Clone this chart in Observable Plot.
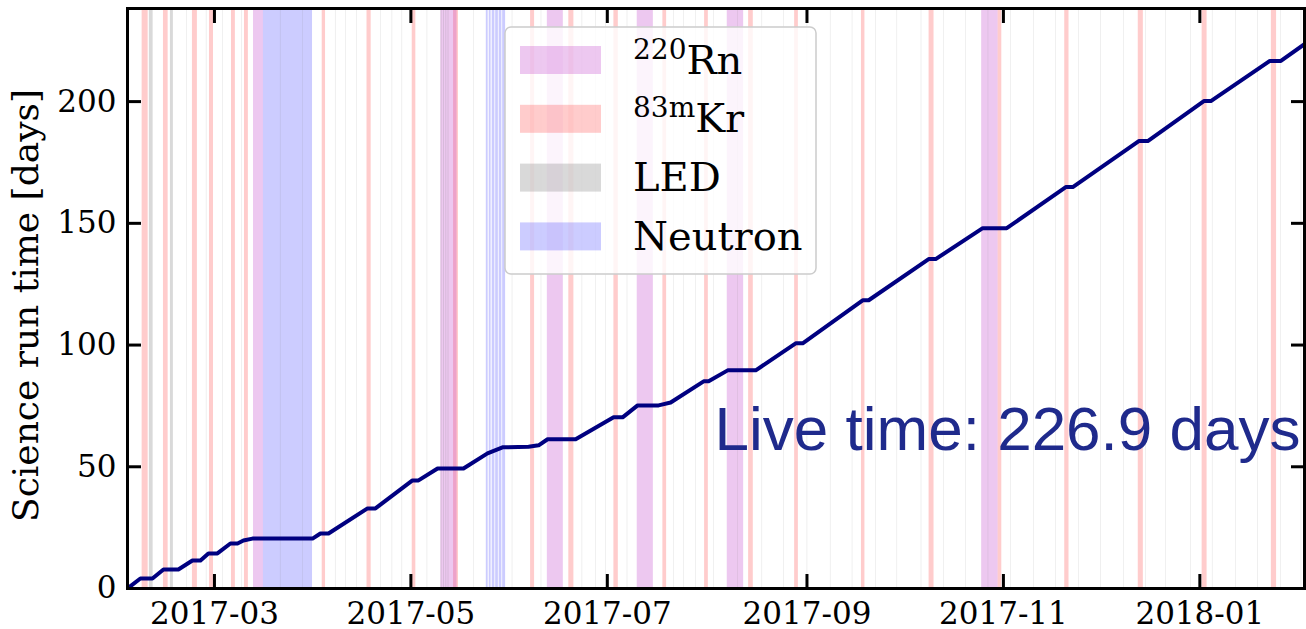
<!DOCTYPE html>
<html>
<head>
<meta charset="utf-8">
<script src="https://cdn.jsdelivr.net/npm/d3@7"></script>
<script src="https://cdn.jsdelivr.net/npm/@observablehq/plot@0.6"></script>
<style>
  html, body { margin: 0; padding: 0; background: #fff; }
  #chart { width: 1306px; height: 629px; }
</style>
</head>
<body>
<div id="chart"></div>
<script>
// Cumulative science-run live time (days) at the corners of the exposure curve
const lineDates = [
  "2017-02-02T00:00", "2017-02-06T00:00", "2017-02-09T18:00", "2017-02-13T04:00",
  "2017-02-17T19:00", "2017-02-22T04:00", "2017-02-24T16:00", "2017-02-27T03:00",
  "2017-03-01T22:00", "2017-03-05T23:00", "2017-03-08T04:00", "2017-03-10T00:00",
  "2017-03-12T19:00", "2017-03-31T11:00", "2017-04-02T22:00", "2017-04-05T10:00",
  "2017-04-17T13:00", "2017-04-20T00:00", "2017-05-01T12:00", "2017-05-03T09:00",
  "2017-05-09T07:00", "2017-05-17T08:00", "2017-05-24T19:00", "2017-05-29T11:00",
  "2017-06-06T13:00", "2017-06-09T16:00", "2017-06-12T11:00", "2017-06-21T04:00",
  "2017-07-02T23:00", "2017-07-05T18:00", "2017-07-10T10:00", "2017-07-16T22:00",
  "2017-07-20T16:00", "2017-07-30T22:00", "2017-08-01T11:00", "2017-08-07T09:00",
  "2017-08-16T02:00", "2017-08-28T12:00", "2017-08-30T16:00", "2017-09-18T07:00",
  "2017-09-20T04:00", "2017-10-08T19:00", "2017-10-10T23:00", "2017-10-25T14:00",
  "2017-11-02T01:00", "2017-11-20T09:00", "2017-11-22T13:00", "2017-12-13T01:00",
  "2017-12-15T20:00", "2018-01-02T06:00", "2018-01-04T10:00", "2018-01-22T18:00",
  "2018-01-26T04:00", "2018-02-06T00:00"
];
const liveDays = [
  0, 4.1, 4.1, 7.8,
  7.8, 11.5, 11.5, 14.4,
  14.4, 18.5, 18.5, 19.7,
  20.5, 20.5, 22.6, 22.6,
  32.9, 32.9, 44.4, 44.4,
  49.3, 49.3, 55.5, 58.0,
  58.2, 58.8, 61.3, 61.3,
  70.3, 70.3, 75.2, 75.2,
  76.4, 85.1, 85.1, 89.6,
  89.6, 100.7, 100.7, 118.4,
  118.4, 135.3, 135.3, 148.0,
  148.0, 164.9, 164.9, 183.8,
  183.8, 200.2, 200.2, 216.7,
  216.7, 226.9
];
const totalLiveTime = 226.9;

// Calibration periods: 220Rn source
const rnStart = ["2017-03-13T03:00", "2017-05-10T07:00", "2017-06-12T09:00",
                 "2017-07-10T07:00", "2017-08-07T06:00", "2017-10-25T06:00"];
const rnEnd   = ["2017-03-16T05:00", "2017-05-15T08:00", "2017-06-17T08:00",
                 "2017-07-15T07:00", "2017-08-12T08:00", "2017-10-30T08:00"];

// 83mKr source
const krStart = [
  "2017-02-06T13:00", "2017-02-13T04:00", "2017-02-22T04:00", "2017-02-27T11:00",
  "2017-03-06T07:00", "2017-03-10T08:00", "2017-04-03T11:00", "2017-04-17T09:00",
  "2017-05-01T10:00", "2017-05-14T06:00", "2017-06-07T04:00", "2017-06-19T01:00",
  "2017-07-03T01:00", "2017-07-18T06:00", "2017-07-31T05:00", "2017-08-13T21:00",
  "2017-08-28T04:00", "2017-09-17T22:00", "2017-10-08T22:00", "2017-10-30T08:00",
  "2017-11-20T01:00", "2017-12-12T21:00", "2018-01-01T17:00", "2018-01-23T05:00"
];
const krEnd = [
  "2017-02-08T10:00", "2017-02-14T15:00", "2017-02-23T17:00", "2017-02-28T17:00",
  "2017-03-07T12:00", "2017-03-11T13:00", "2017-04-04T12:00", "2017-04-18T16:00",
  "2017-05-02T13:00", "2017-05-15T19:00", "2017-06-08T10:00", "2017-06-20T15:00",
  "2017-07-04T10:00", "2017-07-19T10:00", "2017-08-01T09:00", "2017-08-15T08:00",
  "2017-08-29T08:00", "2017-09-19T00:00", "2017-10-10T11:00", "2017-10-31T12:00",
  "2017-11-21T09:00", "2017-12-14T11:00", "2018-01-03T06:00", "2018-01-24T20:00"
];

// Neutron generator / AmBe runs
const neutronStart = ["2017-03-16T05:00", "2017-05-24T10:00", "2017-05-25T08:00",
                      "2017-05-26T06:00", "2017-05-27T08:00", "2017-05-28T10:00",
                      "2017-05-29T12:00"];
const neutronEnd   = ["2017-03-31T11:00", "2017-05-25T00:00", "2017-05-25T22:00",
                      "2017-05-27T02:00", "2017-05-28T04:00", "2017-05-29T06:00",
                      "2017-05-30T10:00"];

// LED (PMT gain) calibrations: start time and duration in hours
const ledStart = [
  "2017-02-08T19:00", "2017-02-15T08:00", "2017-02-20T12:00", "2017-02-26T12:00",
  "2017-03-03T12:00", "2017-03-09T12:00", "2017-03-21T12:00", "2017-03-28T12:00",
  "2017-04-07T14:00", "2017-04-10T17:00", "2017-04-14T07:00", "2017-04-21T14:00",
  "2017-04-25T05:00", "2017-04-28T07:00", "2017-05-06T02:00", "2017-05-10T10:00",
  "2017-05-11T04:00", "2017-05-11T22:00", "2017-05-12T14:00",
  "2017-05-20T12:00", "2017-06-01T12:00", "2017-06-10T12:00", "2017-06-23T05:00",
  "2017-06-27T10:00", "2017-06-30T12:00", "2017-07-07T05:00", "2017-07-21T17:00",
  "2017-07-24T19:00", "2017-07-28T10:00", "2017-08-03T02:00", "2017-08-10T12:00",
  "2017-08-18T02:00", "2017-08-24T19:00", "2017-09-01T02:00", "2017-09-08T07:00",
  "2017-09-15T02:00", "2017-09-22T07:00", "2017-09-29T00:00", "2017-10-06T12:00",
  "2017-10-13T12:00", "2017-10-20T07:00", "2017-10-27T07:00", "2017-11-03T07:00",
  "2017-11-10T10:00", "2017-11-17T07:00", "2017-11-24T10:00", "2017-12-01T05:00",
  "2017-12-08T10:00", "2017-12-15T07:00", "2017-12-21T10:00", "2017-12-29T05:00",
  "2018-01-04T22:00", "2018-01-12T05:00", "2018-01-19T00:00", "2018-01-26T05:00",
  "2018-02-01T12:00"
];
const ledHours = [
  28, 22, 3, 3,
  3, 3, 3, 3,
  3, 3, 3, 3,
  3, 3, 3, 5,
  5, 5, 5,
  3, 3, 3, 3,
  3, 3, 3, 3,
  3, 3, 3, 3,
  3, 3, 3, 3,
  3, 3, 3, 3,
  3, 3, 3, 3,
  3, 3, 3, 3,
  3, 3, 3, 3,
  3, 3, 3, 3,
  3
];

// Axis ticks
const xTicks = ["2017-03-01", "2017-05-01", "2017-07-01", "2017-09-01", "2017-11-01", "2018-01-01"];
const yTicks = [0, 50, 100, 150, 200];

const parseTime = s => new Date((s.length === 10 ? s + "T00:00" : s) + "Z");

const curve = lineDates.map((d, i) => ({date: parseTime(d), days: liveDays[i]}));
const spans = (starts, ends) => starts.map((s, i) => ({start: parseTime(s), end: parseTime(ends[i])}));
const rnRuns = spans(rnStart, rnEnd);
const krRuns = spans(krStart, krEnd);
const neutronRuns = spans(neutronStart, neutronEnd);
const ledRuns = ledStart.map((s, i) => {
  const start = parseTime(s);
  return {start, end: new Date(+start + ledHours[i] * 3600e3)};
});

const colors = {
  rn: {fill: "rgb(183,35,195)", opacity: 0.25},
  kr: {fill: "rgb(255,0,0)", opacity: 0.2},
  led: {fill: "rgb(128,128,128)", opacity: 0.3},
  neutron: {fill: "rgb(0,0,255)", opacity: 0.2}
};

const band = (data, c) => Plot.rect(data, {x1: "start", x2: "end", fill: c.fill, fillOpacity: c.opacity});

const tickLen = -14;

const svg = Plot.plot({
  width: 1306,
  height: 629,
  marginLeft: 127,
  marginRight: 2,
  marginTop: 8,
  marginBottom: 41,
  style: {fontFamily: "'DejaVu Serif', serif", fontSize: "31px", color: "black", background: "white", overflow: "visible"},
  x: {type: "utc", domain: [parseTime("2017-02-02T00:00"), parseTime("2018-02-02T12:00")]},
  y: {domain: [0, totalLiveTime * 1.05]},
  marks: [
    band(krRuns, colors.kr),
    band(rnRuns, colors.rn),
    band(neutronRuns, colors.neutron),
    band(ledRuns, colors.led),
    Plot.line(curve, {x: "date", y: "days", stroke: "#000080", strokeWidth: 4, clip: true}),
    Plot.text([`Live time: ${totalLiveTime} days`], {
      frameAnchor: "bottom-right", dx: -4, dy: -139, textAnchor: "end", lineAnchor: "bottom",
      fontFamily: "'Liberation Sans', Arial, sans-serif", fontSize: 62, fill: "#1f2a8c"
    }),
    Plot.text(["Science run time [days]"], {
      frameAnchor: "left", dx: -101, dy: 7, rotate: -90, textAnchor: "middle", fontSize: 36, fill: "black"
    }),
    Plot.axisX(xTicks.map(parseTime), {anchor: "bottom", tickSize: tickLen, tickPadding: 27, strokeWidth: 3,
      tickFormat: d3.utcFormat("%Y-%m"), label: null}),
    Plot.axisX(xTicks.map(parseTime), {anchor: "top", tickSize: tickLen, tickPadding: 0, strokeWidth: 3,
      tickFormat: () => "", label: null}),
    Plot.axisY(yTicks, {anchor: "left", tickSize: tickLen, tickPadding: 25, strokeWidth: 3, label: null}),
    Plot.axisY(yTicks, {anchor: "right", tickSize: tickLen, tickPadding: 0, strokeWidth: 3,
      tickFormat: () => "", label: null}),
    Plot.frame({stroke: "black", strokeWidth: 3})
  ]
});

// Legend box in the upper middle of the frame
const legendItems = [
  {sup: "220", name: "Rn", c: colors.rn},
  {sup: "83m", name: "Kr", c: colors.kr},
  {sup: "", name: "LED", c: colors.led},
  {sup: "", name: "Neutron", c: colors.neutron}
];
const lg = d3.select(svg).append("g").attr("class", "legend").attr("text-anchor", "start");
lg.append("rect")
  .attr("x", 505).attr("y", 27).attr("width", 311).attr("height", 247).attr("rx", 6)
  .attr("fill", "white").attr("fill-opacity", 0.8)
  .attr("stroke", "#cccccc").attr("stroke-width", 1.5);
legendItems.forEach((item, i) => {
  const y0 = 46 + i * 58.8;
  lg.append("rect")
    .attr("x", 520).attr("y", y0).attr("width", 81).attr("height", 28)
    .attr("fill", item.c.fill).attr("fill-opacity", item.c.opacity);
  const t = lg.append("text")
    .attr("x", 633).attr("y", y0 + 27.5)
    .attr("text-anchor", "start")
    .attr("font-size", 40).attr("fill", "black");
  if (item.sup) {
    t.append("tspan").attr("font-size", 28).attr("dy", -15).text(item.sup);
    t.append("tspan").attr("dy", 15).text(item.name);
  } else {
    t.text(item.name);
  }
});

document.getElementById("chart").appendChild(svg);
</script>
</body>
</html>
